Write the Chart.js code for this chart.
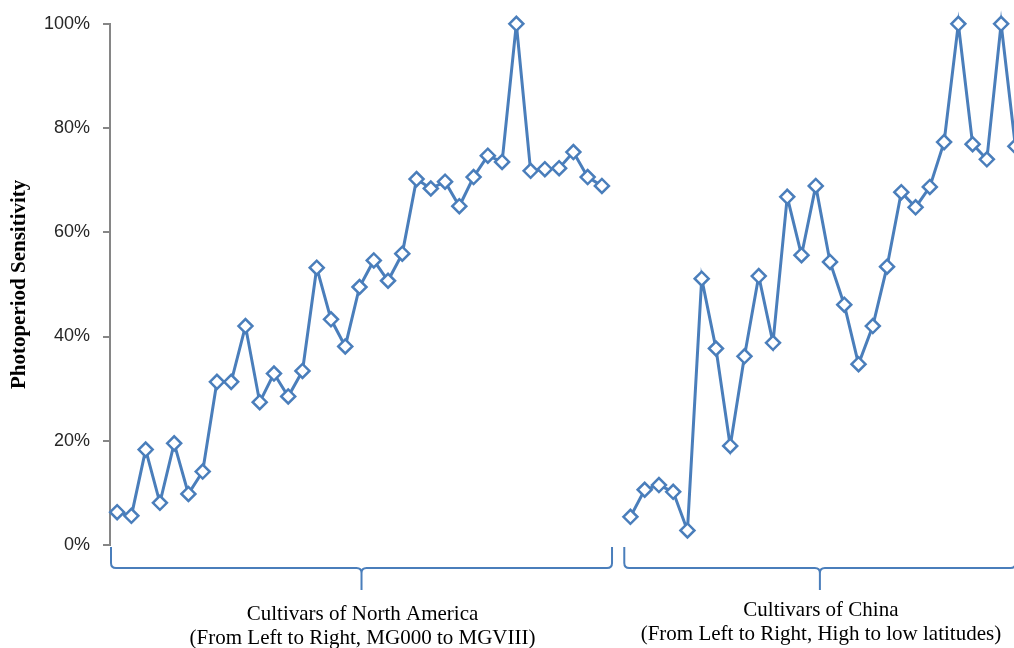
<!DOCTYPE html>
<html>
<head>
<meta charset="utf-8">
<script src="https://cdn.jsdelivr.net/npm/chart.js@4/dist/chart.umd.min.js"></script>
<style>
  html, body { margin: 0; padding: 0; background: #fff; overflow: hidden; }
  #wrap { width: 1014px; height: 648px; overflow: hidden; position: relative; }
  #chart { display: block; }
</style>
</head>
<body>
<div id="wrap"><canvas id="chart" width="1032" height="648"></canvas></div>
<script>
// photoperiod sensitivity, percent
const northAmerica = [6.3, 5.6, 18.3, 8.1, 19.5, 9.8, 14.1, 31.3, 31.3, 42.0,
  27.4, 32.9, 28.5, 33.4, 53.2, 43.3, 38.1, 49.5, 54.6, 50.7,
  55.9, 70.2, 68.4, 69.7, 65.0, 70.6, 74.7, 73.5, 100, 71.8,
  72.1, 72.3, 75.4, 70.6, 68.9];
const china = [5.4, 10.6, 11.5, 10.2, 2.8, 51.1, 37.7, 19.0, 36.2, 51.6,
  38.8, 66.8, 55.6, 68.9, 54.3, 46.1, 34.7, 42.0, 53.4, 67.7,
  64.8, 68.7, 77.3, 100, 76.9, 74.0, 100, 76.5];
const groupNames = ['Cultivars of North America', 'Cultivars of China'];
const groupNotes = ['(From Left to Right, MG000 to MGVIII)', '(From Left to Right, High to low latitudes)'];
const yTicks = [0, 20, 40, 60, 80, 100];

// one empty slot between the two groups
const values = northAmerica.concat([null], china);
const labels = values.map((v, i) => String(i + 1));
const groups = [
  { from: 0, to: northAmerica.length - 1, lift: 0, tail: 3 },
  { from: northAmerica.length + 1, to: values.length - 1, lift: 4, tail: -7 }
];

const blue = '#4a7ebb';

const bracePlugin = {
  id: 'braces',
  afterDraw(chart) {
    const ctx = chart.ctx;
    const x = chart.scales.x;
    const step = x.getPixelForValue(1) - x.getPixelForValue(0);
    const yTop = chart.chartArea.bottom + 2;
    const yMid = yTop + 21;
    const yTip = yTop + 43;
    ctx.save();
    ctx.strokeStyle = blue;
    ctx.lineWidth = 2;
    groups.forEach((g, k) => {
      const x0 = x.getPixelForValue(g.from) - step / 2 + 1;
      const x1 = x.getPixelForValue(g.to) + step / 2 + g.tail;
      const xm = (x0 + x1) / 2;
      const r = 5;
      ctx.beginPath();
      ctx.moveTo(x0, yTop);
      ctx.lineTo(x0, yMid - r);
      ctx.quadraticCurveTo(x0, yMid, x0 + r, yMid);
      ctx.lineTo(xm - r, yMid);
      ctx.quadraticCurveTo(xm, yMid, xm, yMid + r);
      ctx.lineTo(xm, yTip);
      ctx.moveTo(xm, yMid + r);
      ctx.quadraticCurveTo(xm, yMid, xm + r, yMid);
      ctx.lineTo(x1 - r, yMid);
      ctx.quadraticCurveTo(x1, yMid, x1, yMid - r);
      ctx.lineTo(x1, yTop);
      ctx.stroke();

      ctx.fillStyle = '#000';
      ctx.font = '21px "Liberation Serif", "Times New Roman", serif';
      ctx.textAlign = 'center';
      ctx.textBaseline = 'middle';
      ctx.fillText(groupNames[k], xm + 1, 614 - g.lift);
      ctx.fillText(groupNotes[k], xm + 1, 638 - g.lift);
    });
    ctx.restore();
  }
};

new Chart(document.getElementById('chart'), {
  type: 'line',
  data: {
    labels: labels,
    datasets: [{
      data: values,
      borderColor: blue,
      borderWidth: 3,
      pointStyle: 'rectRot',
      pointRadius: 7,
      pointBorderWidth: 2.5,
      pointBorderColor: blue,
      pointBackgroundColor: '#fff',
      tension: 0,
      spanGaps: false,
      clip: false
    }]
  },
  options: {
    responsive: false,
    animation: false,
    layout: { padding: { top: 22, right: 0, bottom: 103, left: 0 } },
    plugins: { legend: { display: false }, tooltip: { enabled: false } },
    scales: {
      x: { type: 'category', display: false, offset: true },
      y: {
        min: 0,
        max: 100,
        afterFit: s => { s.width = 110; },
        afterBuildTicks: s => { s.ticks = yTicks.map(v => ({ value: v })); },
        ticks: {
          padding: 13,
          color: '#262626',
          font: { family: '"Liberation Sans", Arial, sans-serif', size: 18 },
          callback: v => v + '%'
        },
        grid: { drawOnChartArea: false, drawTicks: true, tickLength: 7, color: '#868686', lineWidth: 2 },
        border: { display: true, color: '#868686', width: 2 },
        title: {
          display: true,
          text: 'Photoperiod Sensitivity',
          color: '#000',
          padding: { top: 7, bottom: 0 },
          font: { family: '"Liberation Serif", "Times New Roman", serif', size: 21, weight: 'bold' }
        }
      }
    }
  },
  plugins: [bracePlugin]
});
</script>
</body>
</html>
